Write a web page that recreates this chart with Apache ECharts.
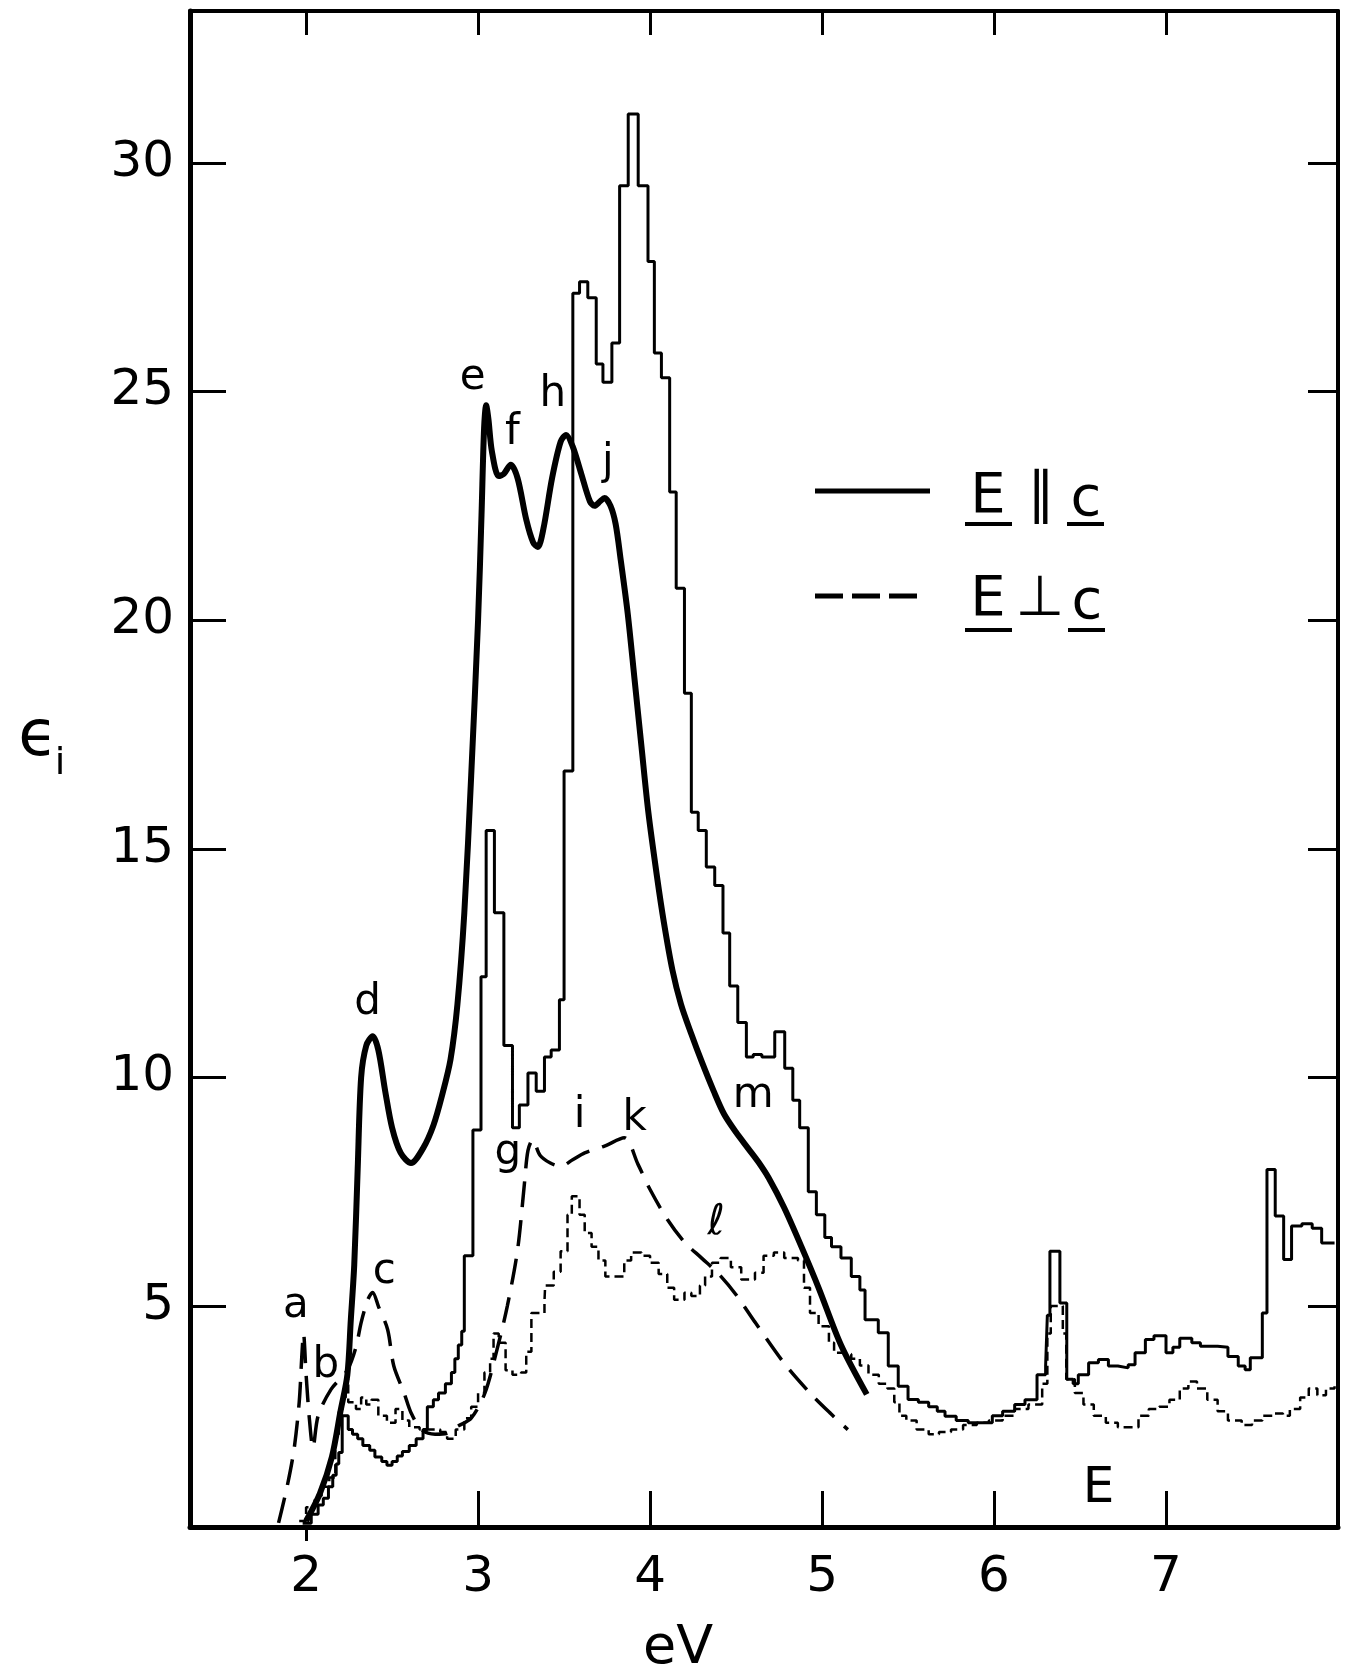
<!DOCTYPE html>
<html>
<head>
<meta charset="utf-8">
<title>εi vs eV</title>
<script src="https://cdn.jsdelivr.net/npm/echarts@6/dist/echarts.min.js"></script>
<style>
  html, body { margin: 0; padding: 0; background: #fff; }
  #chart { width: 1357px; height: 1680px; }
</style>
</head>
<body>
<div id="chart"></div>
<script>
// axis ticks
var xTicks = [2, 3, 4, 5, 6, 7];
var yTicks = [5, 10, 15, 20, 25, 30];

// E || c measured (thick smooth curve)
var parExpX = [2.00, 2.08, 2.15, 2.20, 2.24, 2.26, 2.28, 2.30, 2.32, 2.35, 2.387, 2.42, 2.46, 2.50, 2.55, 2.61, 2.68, 2.74, 2.79, 2.84, 2.88, 2.92, 2.96, 3.00, 3.02, 3.035, 3.047, 3.06, 3.08, 3.12, 3.15, 3.19, 3.23, 3.28, 3.32, 3.347, 3.38, 3.43, 3.48, 3.512, 3.55, 3.60, 3.65, 3.677, 3.71, 3.735, 3.77, 3.80, 3.83, 3.87, 3.91, 3.95, 3.99, 4.04, 4.08, 4.13, 4.18, 4.24, 4.30, 4.37, 4.43, 4.50, 4.57, 4.63, 4.69, 4.78, 4.88, 4.98, 5.11, 5.26];
var parExpY = [0.3, 0.9, 1.7, 2.7, 3.5, 4.7, 5.9, 8.0, 10.0, 10.7, 10.9, 10.6, 9.7, 8.9, 8.35, 8.13, 8.45, 8.95, 9.6, 10.4, 11.6, 13.6, 16.6, 20.0, 22.3, 24.2, 24.7, 24.4, 23.7, 23.15, 23.2, 23.4, 23.1, 22.2, 21.7, 21.6, 22.0, 23.1, 23.9, 24.05, 23.8, 23.2, 22.6, 22.5, 22.6, 22.67, 22.5, 22.1, 21.3, 20.15, 18.7, 17.24, 15.8, 14.4, 13.4, 12.35, 11.6, 10.95, 10.35, 9.7, 9.2, 8.8, 8.45, 8.15, 7.8, 7.15, 6.3, 5.4, 4.15, 3.07];

// E _|_ c measured (long dashes)
var perpExpX = [1.84, 1.89, 1.93, 1.96, 1.975, 1.985, 2.00, 2.02, 2.04, 2.07, 2.145, 2.24, 2.29, 2.32, 2.36, 2.387, 2.42, 2.474, 2.51, 2.57, 2.61, 2.67, 2.75, 2.82, 2.88, 2.96, 3.04, 3.11, 3.17, 3.23, 3.27, 3.29, 3.318, 3.36, 3.42, 3.48, 3.55, 3.62, 3.735, 3.85, 3.93, 4.00, 4.10, 4.20, 4.30, 4.40, 4.50, 4.61, 4.78, 4.93, 5.05, 5.15];
var perpExpY = [0.26, 1.06, 1.87, 2.9, 3.9, 4.4, 3.5, 2.5, 1.9, 2.6, 3.18, 3.6, 4.1, 4.64, 5.15, 5.3, 5.0, 4.49, 3.69, 3.1, 2.67, 2.3, 2.2, 2.22, 2.37, 2.55, 3.1, 4.05, 5.0, 6.24, 7.7, 8.4, 8.64, 8.3, 8.13, 8.06, 8.2, 8.35, 8.5, 8.68, 8.1, 7.55, 6.9, 6.4, 6.05, 5.7, 5.25, 4.65, 3.75, 3.1, 2.65, 2.3];

// E || c calculated (thin histogram), each value holds from its x to the next x
var parThX = [1.98, 2.03, 2.07, 2.10, 2.13, 2.155, 2.175, 2.19, 2.21, 2.245, 2.27, 2.30, 2.33, 2.37, 2.40, 2.44, 2.47, 2.50, 2.53, 2.56, 2.60, 2.64, 2.68, 2.705, 2.74, 2.77, 2.81, 2.845, 2.865, 2.885, 2.905, 2.92, 2.97, 3.017, 3.047, 3.095, 3.15, 3.20, 3.24, 3.29, 3.338, 3.386, 3.425, 3.473, 3.50, 3.551, 3.59, 3.638, 3.687, 3.726, 3.778, 3.823, 3.873, 3.931, 3.988, 4.025, 4.066, 4.114, 4.152, 4.20, 4.24, 4.28, 4.327, 4.376, 4.424, 4.463, 4.51, 4.56, 4.60, 4.65, 4.725, 4.783, 4.83, 4.87, 4.92, 4.967, 5.016, 5.055, 5.11, 5.17, 5.22, 5.25, 5.327, 5.385, 5.443, 5.50, 5.56, 5.62, 5.67, 5.715, 5.78, 5.85, 5.93, 5.99, 6.05, 6.12, 6.18, 6.25, 6.30, 6.31, 6.325, 6.383, 6.423, 6.46, 6.49, 6.55, 6.607, 6.665, 6.72, 6.78, 6.82, 6.88, 6.93, 7.00, 7.04, 7.08, 7.15, 7.20, 7.30, 7.36, 7.42, 7.46, 7.49, 7.56, 7.587, 7.635, 7.684, 7.73, 7.79, 7.85, 7.905, 7.98];
var parThY = [0.25, 0.45, 0.65, 0.8, 1.05, 1.3, 1.55, 1.8, 2.6, 2.3, 2.2, 2.1, 1.95, 1.85, 1.7, 1.6, 1.52, 1.6, 1.72, 1.82, 1.95, 2.1, 2.3, 2.8, 2.95, 3.1, 3.3, 3.55, 3.85, 4.15, 4.45, 6.1, 8.85, 12.2, 15.4, 13.6, 10.7, 8.9, 9.4, 10.1, 9.7, 10.45, 10.6, 11.7, 16.7, 27.15, 27.4, 27.05, 25.6, 25.2, 26.06, 29.5, 31.07, 29.5, 27.84, 25.84, 25.3, 22.8, 20.7, 18.4, 15.8, 15.4, 14.6, 14.2, 13.16, 12.0, 11.2, 10.45, 10.5, 10.45, 11.0, 10.2, 9.5, 8.9, 7.5, 7.0, 6.5, 6.3, 6.05, 5.65, 5.35, 4.7, 4.42, 3.69, 3.25, 2.96, 2.9, 2.8, 2.7, 2.59, 2.5, 2.45, 2.45, 2.6, 2.7, 2.85, 2.95, 3.5, 3.7, 4.8, 6.2, 5.07, 3.4, 3.3, 3.5, 3.76, 3.83, 3.69, 3.65, 3.72, 3.98, 4.27, 4.35, 3.98, 4.1, 4.3, 4.2, 4.12, 4.1, 3.9, 3.69, 3.61, 3.87, 4.85, 7.99, 6.97, 6.02, 6.75, 6.8, 6.7, 6.38, 6.38];

// E _|_ c calculated (dotted histogram)
var perpThX = [1.96, 2.00, 2.05, 2.09, 2.135, 2.17, 2.19, 2.21, 2.23, 2.245, 2.29, 2.32, 2.35, 2.38, 2.42, 2.47, 2.52, 2.56, 2.60, 2.66, 2.72, 2.78, 2.82, 2.87, 2.92, 2.96, 3.00, 3.037, 3.07, 3.09, 3.12, 3.16, 3.20, 3.25, 3.28, 3.31, 3.386, 3.39, 3.44, 3.48, 3.52, 3.545, 3.59, 3.62, 3.66, 3.70, 3.74, 3.85, 3.89, 3.95, 4.00, 4.05, 4.10, 4.14, 4.20, 4.24, 4.29, 4.32, 4.36, 4.41, 4.47, 4.53, 4.61, 4.66, 4.72, 4.78, 4.86, 4.895, 4.93, 4.98, 5.04, 5.07, 5.12, 5.17, 5.22, 5.27, 5.33, 5.38, 5.42, 5.45, 5.49, 5.55, 5.62, 5.68, 5.75, 5.82, 5.90, 5.97, 6.05, 6.12, 6.20, 6.28, 6.31, 6.33, 6.40, 6.42, 6.47, 6.52, 6.58, 6.65, 6.72, 6.80, 6.84, 6.90, 6.96, 7.02, 7.08, 7.13, 7.18, 7.24, 7.30, 7.36, 7.44, 7.50, 7.56, 7.62, 7.68, 7.72, 7.78, 7.83, 7.88, 7.93, 7.98];
var perpThY = [0.3, 0.6, 0.85, 1.05, 1.25, 2.2, 2.7, 3.0, 3.4, 2.9, 2.75, 3.0, 2.85, 2.95, 2.6, 2.45, 2.75, 2.5, 2.35, 2.3, 2.3, 2.25, 2.1, 2.3, 2.55, 2.8, 3.1, 3.55, 3.85, 4.4, 4.2, 3.6, 3.5, 3.55, 4.0, 4.85, 5.1, 5.45, 5.75, 6.2, 7.0, 7.4, 7.0, 6.6, 6.3, 6.0, 5.65, 6.0, 6.17, 6.1, 5.95, 5.7, 5.4, 5.14, 5.29, 5.22, 5.45, 5.65, 5.95, 6.05, 5.85, 5.58, 5.73, 6.1, 6.17, 6.05, 6.0, 5.4, 4.85, 4.56, 4.2, 3.98, 3.95, 3.85, 3.7, 3.5, 3.3, 3.2, 2.9, 2.6, 2.5, 2.3, 2.2, 2.25, 2.3, 2.4, 2.45, 2.5, 2.6, 2.75, 2.85, 3.3, 4.4, 5.0, 4.4, 3.4, 3.1, 2.85, 2.6, 2.45, 2.35, 2.35, 2.6, 2.75, 2.8, 2.95, 3.2, 3.35, 3.2, 2.95, 2.7, 2.5, 2.4, 2.5, 2.6, 2.65, 2.6, 2.75, 3.0, 3.2, 3.05, 3.2, 3.25];

// peak letters
var noteText = ['a', 'b', 'c', 'd', 'e', 'f', 'g', 'h', 'i', 'j', 'k', 'ℓ', 'm', 'E'];
var noteX = [1.94, 2.115, 2.455, 2.358, 2.969, 3.20, 3.173, 3.435, 3.59, 3.755, 3.91, 4.385, 4.60, 6.607];
var noteY = [5.0, 3.69, 5.75, 11.63, 25.29, 24.09, 8.35, 24.93, 9.15, 23.43, 9.08, 6.82, 9.59, 1.0];

(function () {
  var chartDom = document.getElementById('chart');
  var myChart = echarts.init(chartDom);
  var font = 'DejaVu Sans';
  var xMin = 1.325, xMax = 8.0, yMin = 0.17, yMax = 33.32;

  function zip(xs, ys) {
    var out = [];
    for (var i = 0; i < xs.length; i++) out.push([xs[i], ys[i]]);
    return out;
  }

  var notes = [];
  for (var i = 0; i < noteText.length; i++) {
    var item = { name: noteText[i], value: [noteX[i], noteY[i]] };
    if (noteText[i] === 'E') item.label = { fontSize: 50 };
    if (noteText[i] === 'ℓ') item.label = { fontStyle: 'italic' };
    notes.push(item);
  }

  var black = '#000';
  var option = {
    animation: false,
    backgroundColor: '#fff',
    textStyle: { fontFamily: font, color: black },
    grid: { left: 190, right: 19, top: 11, bottom: 153 },
    xAxis: [
      {
        type: 'value', min: xMin, max: xMax, position: 'bottom',
        axisLine: { lineStyle: { color: black, width: 5 } },
        axisTick: { inside: true, length: 36, customValues: [3, 4, 5, 6, 7], lineStyle: { color: black, width: 3 } },
        axisLabel: { customValues: xTicks, margin: 26, fontSize: 50, color: black, fontFamily: font },
        splitLine: { show: false }
      },
      {
        type: 'value', min: xMin, max: xMax, position: 'top',
        axisLine: { lineStyle: { color: black, width: 4 } },
        axisTick: { inside: true, length: 24, customValues: xTicks, lineStyle: { color: black, width: 3 } },
        axisLabel: { show: false },
        splitLine: { show: false }
      },
      {
        // the "2" tick points out of the frame
        type: 'value', min: xMin, max: xMax, position: 'bottom',
        axisLine: { show: false },
        axisTick: { inside: false, length: 14, customValues: [2], lineStyle: { color: black, width: 3 } },
        axisLabel: { show: false },
        splitLine: { show: false }
      }
    ],
    yAxis: [
      {
        type: 'value', min: yMin, max: yMax, position: 'left',
        axisLine: { show: true, lineStyle: { color: black, width: 5 } },
        axisTick: { show: true, inside: true, length: 36, customValues: yTicks, lineStyle: { color: black, width: 3 } },
        axisLabel: { customValues: yTicks, margin: 16, fontSize: 50, color: black, fontFamily: font },
        splitLine: { show: false }
      },
      {
        type: 'value', min: yMin, max: yMax, position: 'right',
        axisLine: { show: true, lineStyle: { color: black, width: 4 } },
        axisTick: { show: true, inside: true, length: 30, customValues: yTicks, lineStyle: { color: black, width: 3 } },
        axisLabel: { show: false },
        splitLine: { show: false }
      }
    ],
    series: [
      {
        name: 'E∥c calc', type: 'line', step: 'end', symbol: 'none',
        data: zip(parThX, parThY),
        lineStyle: { color: black, width: 3 }, z: 2
      },
      {
        name: 'E⊥c calc', type: 'line', step: 'end', symbol: 'none',
        data: zip(perpThX, perpThY),
        lineStyle: { color: black, width: 2.5, type: [9, 5] }, z: 2
      },
      {
        name: 'E⊥c', type: 'line', smooth: 0.3, symbol: 'none',
        data: zip(perpExpX, perpExpY),
        lineStyle: { color: black, width: 3.5, type: [26, 13] }, z: 3
      },
      {
        name: 'E∥c', type: 'line', smooth: 0.3, symbol: 'none',
        data: zip(parExpX, parExpY),
        lineStyle: { color: black, width: 6 }, z: 4
      },
      {
        type: 'scatter', symbolSize: 0, data: notes, z: 5,
        itemStyle: { opacity: 1, color: black },
        label: {
          show: true, position: 'inside', formatter: '{b}',
          fontSize: 42, color: black, opacity: 1, fontFamily: font
        }
      }
    ],
    graphic: [
      // y-axis title
      { type: 'text', x: 38, y: 738, style: { text: 'ϵ', font: '64px "DejaVu Sans"', fill: black, textAlign: 'center', textVerticalAlign: 'middle', align: 'center', verticalAlign: 'middle' } },
      { type: 'text', x: 60, y: 764, style: { text: 'i', font: '38px "DejaVu Sans"', fill: black, textAlign: 'center', textVerticalAlign: 'middle', align: 'center', verticalAlign: 'middle' } },
      // x-axis title
      { type: 'text', x: 678, y: 1649, style: { text: 'eV', font: '54px "DejaVu Sans"', fill: black, textAlign: 'center', textVerticalAlign: 'middle', align: 'center', verticalAlign: 'middle' } },
      // legend
      { type: 'line', shape: { x1: 815, y1: 491, x2: 930, y2: 491 }, style: { stroke: black, lineWidth: 5 } },
      { type: 'text', x: 988, y: 497, style: { text: 'E', font: '56px "DejaVu Sans"', fill: black, textAlign: 'center', textVerticalAlign: 'middle', align: 'center', verticalAlign: 'middle' } },
      { type: 'text', x: 1041, y: 497, style: { text: '∥', font: '56px "DejaVu Sans"', fill: black, textAlign: 'center', textVerticalAlign: 'middle', align: 'center', verticalAlign: 'middle' } },
      { type: 'text', x: 1086, y: 500, style: { text: 'c', font: '56px "DejaVu Sans"', fill: black, textAlign: 'center', textVerticalAlign: 'middle', align: 'center', verticalAlign: 'middle' } },
      { type: 'line', shape: { x1: 965, y1: 524, x2: 1012, y2: 524 }, style: { stroke: black, lineWidth: 4 } },
      { type: 'line', shape: { x1: 1067, y1: 524, x2: 1104, y2: 524 }, style: { stroke: black, lineWidth: 4 } },
      { type: 'line', shape: { x1: 815, y1: 596, x2: 917, y2: 596 }, style: { stroke: black, lineWidth: 5, lineDash: [28, 9] } },
      { type: 'text', x: 988, y: 600, style: { text: 'E', font: '56px "DejaVu Sans"', fill: black, textAlign: 'center', textVerticalAlign: 'middle', align: 'center', verticalAlign: 'middle' } },
      { type: 'text', x: 1040, y: 600, style: { text: '⊥', font: '56px "DejaVu Sans"', fill: black, textAlign: 'center', textVerticalAlign: 'middle', align: 'center', verticalAlign: 'middle' } },
      { type: 'text', x: 1087, y: 603, style: { text: 'c', font: '56px "DejaVu Sans"', fill: black, textAlign: 'center', textVerticalAlign: 'middle', align: 'center', verticalAlign: 'middle' } },
      { type: 'line', shape: { x1: 965, y1: 630, x2: 1012, y2: 630 }, style: { stroke: black, lineWidth: 4 } },
      { type: 'line', shape: { x1: 1068, y1: 630, x2: 1105, y2: 630 }, style: { stroke: black, lineWidth: 4 } }
    ]
  };

  option && myChart.setOption(option);
})();
</script>
</body>
</html>
